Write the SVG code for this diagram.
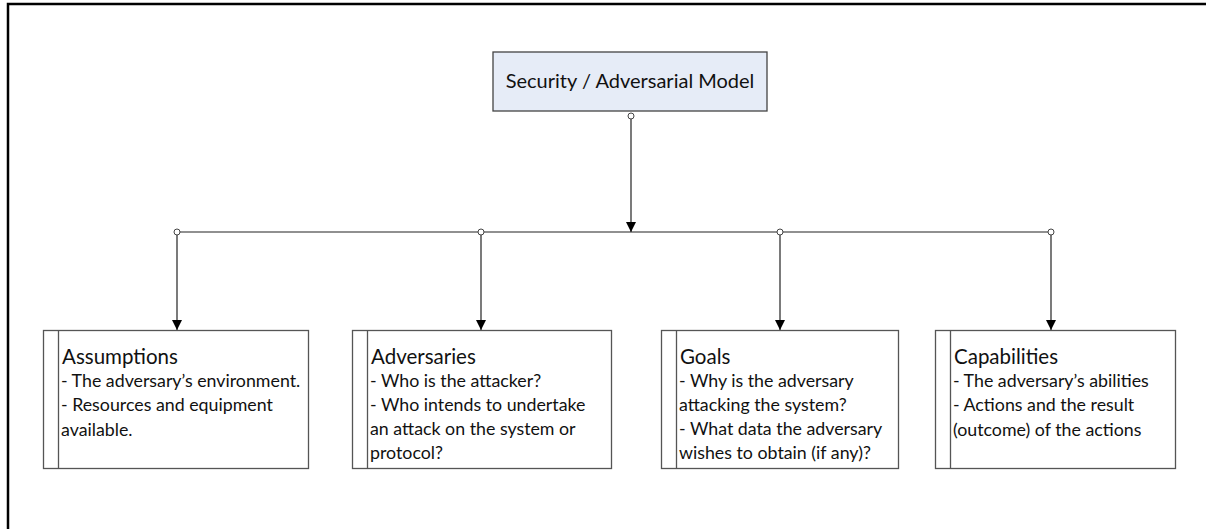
<svg xmlns="http://www.w3.org/2000/svg" width="1206" height="529" viewBox="0 0 1206 529">
<defs>
<marker id="arr" markerWidth="10" markerHeight="10" refX="10" refY="5" orient="auto" markerUnits="userSpaceOnUse">
<path d="M0,0 L10,5 L0,10 Z" fill="#000"/>
</marker>
<style>
.frame{fill:none;stroke:#000;stroke-width:2.5}
.box{fill:#fff;stroke:#555;stroke-width:1.3}
.top{fill:#e6ecf7;stroke:#444;stroke-width:1.3}
.div{stroke:#555;stroke-width:1.3}
.ln{stroke:#222;stroke-width:1.2;fill:none}
.dot{fill:#fff;stroke:#444;stroke-width:1}
.t{font-family:Lato,"Liberation Sans",sans-serif;fill:#111}
.title{font-size:20px}
.h{font-size:20.5px}
.b{font-size:17.8px}
</style>
</defs>
<path class="frame" d="M8,529 L8,4 L1206,4"/>
<g id="connectors">
<line class="ln" x1="631" y1="119" x2="631" y2="232" marker-end="url(#arr)"/>
<line class="ln" x1="180" y1="232" x2="1048" y2="232"/>
<line class="ln" x1="177" y1="235" x2="177" y2="330" marker-end="url(#arr)"/>
<line class="ln" x1="481" y1="235" x2="481" y2="330" marker-end="url(#arr)"/>
<line class="ln" x1="780" y1="235" x2="780" y2="330" marker-end="url(#arr)"/>
<line class="ln" x1="1051" y1="235" x2="1051" y2="330" marker-end="url(#arr)"/>
<circle class="dot" cx="631" cy="116" r="3"/>
<circle class="dot" cx="177" cy="232" r="3"/>
<circle class="dot" cx="481" cy="232" r="3"/>
<circle class="dot" cx="780" cy="232" r="3"/>
<circle class="dot" cx="1051" cy="232" r="3"/>
</g>
<g id="model">
<rect class="top" x="493" y="52" width="274" height="59"/>
<text class="t title" x="630" y="88" text-anchor="middle">Security / Adversarial Model</text>
</g>
<g id="assumptions">
<rect class="box" x="43.5" y="330.5" width="265" height="138"/>
<line class="div" x1="58.5" y1="330.5" x2="58.5" y2="468.5"/>
<text class="t h" x="62" y="364">Assumptions</text>
<text class="t b" x="61" y="387">- The adversary’s environment.</text>
<text class="t b" x="61" y="411">- Resources and equipment</text>
<text class="t b" x="61" y="436">available.</text>
</g>
<g id="adversaries">
<rect class="box" x="352.5" y="330.5" width="259" height="138"/>
<line class="div" x1="367.5" y1="330.5" x2="367.5" y2="468.5"/>
<text class="t h" x="371" y="364">Adversaries</text>
<text class="t b" x="370" y="387">- Who is the attacker?</text>
<text class="t b" x="370" y="411">- Who intends to undertake</text>
<text class="t b" x="370" y="435">an attack on the system or</text>
<text class="t b" x="370" y="459">protocol?</text>
</g>
<g id="goals">
<rect class="box" x="661.5" y="330.5" width="237" height="138"/>
<line class="div" x1="676.5" y1="330.5" x2="676.5" y2="468.5"/>
<text class="t h" x="680" y="364">Goals</text>
<text class="t b" x="679" y="387">- Why is the adversary</text>
<text class="t b" x="679" y="411">attacking the system?</text>
<text class="t b" x="679" y="435">- What data the adversary</text>
<text class="t b" x="679" y="459">wishes to obtain (if any)?</text>
</g>
<g id="capabilities">
<rect class="box" x="935.5" y="330.5" width="240" height="138"/>
<line class="div" x1="950.5" y1="330.5" x2="950.5" y2="468.5"/>
<text class="t h" x="954" y="364">Capabilities</text>
<text class="t b" x="953" y="387">- The adversary’s abilities</text>
<text class="t b" x="953" y="411">- Actions and the result</text>
<text class="t b" x="953" y="436">(outcome) of the actions</text>
</g>
</svg>
